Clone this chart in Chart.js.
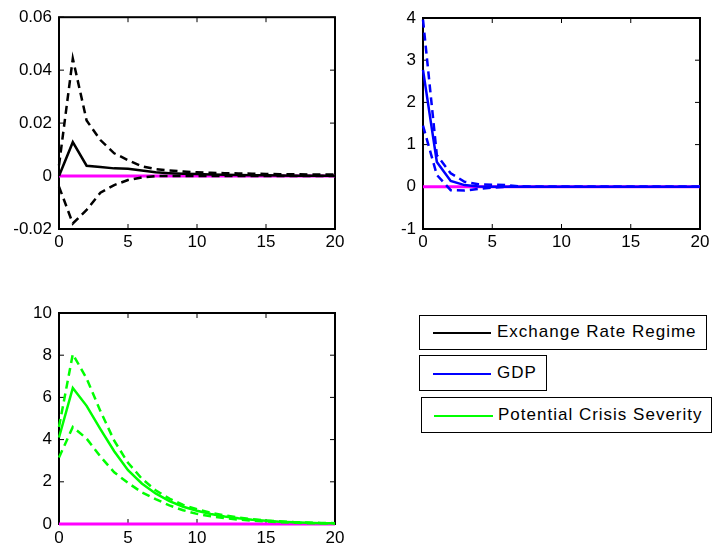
<!DOCTYPE html>
<html>
<head>
<meta charset="utf-8">
<script src="https://cdn.jsdelivr.net/npm/chart.js@4.4.1/dist/chart.umd.min.js"></script>
<style>
  body { margin: 0; background: #fff; width: 713px; height: 551px; position: relative; overflow: hidden; font-family: "Liberation Sans", Arial, sans-serif; }
  .plot { position: absolute; }
  .key { position: absolute; border: 1.5px solid #000; box-sizing: border-box; background: #fff; }
  .key span.line { position: absolute; height: 2px; }
  .key span.txt { position: absolute; font-size: 17px; letter-spacing: 1px; color: #000; white-space: nowrap; }
  #err { position: absolute; left: 380px; top: 460px; font-size: 10px; color: red; }
</style>
</head>
<body>
<div class="plot" style="left:0;top:0;width:360px;height:260px"><canvas id="rateChart"></canvas></div>
<div class="plot" style="left:360px;top:0;width:353px;height:260px"><canvas id="gdpChart"></canvas></div>
<div class="plot" style="left:0;top:280px;width:360px;height:271px"><canvas id="crisisChart"></canvas></div>

<div class="key" style="left:419px;top:315px;width:288px;height:35px">
  <span class="line" style="left:13px;top:16px;width:58px;background:#000"></span>
  <span class="txt" style="left:77px;top:6px">Exchange Rate Regime</span>
</div>
<div class="key" style="left:419px;top:355px;width:128px;height:36px">
  <span class="line" style="left:13px;top:17px;width:58px;background:#0000ff"></span>
  <span class="txt" style="left:77px;top:7px">GDP</span>
</div>
<div class="key" style="left:421px;top:397px;width:291px;height:36px">
  <span class="line" style="left:12px;top:17px;width:59px;background:#00ff00"></span>
  <span class="txt" style="left:76px;top:7px">Potential Crisis Severity</span>
</div>
<div id="err"></div>

<script>
// Horizon (periods after the shock)
const periods = [0, 1, 2, 3, 4, 5, 6, 7, 8, 9, 10, 11, 12, 13, 14, 15, 16, 17, 18, 19, 20];
const zeroLine = [0, 0, 0, 0, 0, 0, 0, 0, 0, 0, 0, 0, 0, 0, 0, 0, 0, 0, 0, 0, 0];

// Exchange Rate Regime response with bands
const rateMid   = [0, 0.0128, 0.0039, 0.0034, 0.0029, 0.0028, 0.0021, 0.0014, 0.0011, 0.0009, 0.0008, 0.0006, 0.0005, 0.0004, 0.0003, 0.0003, 0.0002, 0.0001, 0.0001, 0.0001, 0.0001];
const rateUpper = [0.004, 0.0444, 0.021, 0.0136, 0.0086, 0.006, 0.0037, 0.0026, 0.0021, 0.0017, 0.0014, 0.0012, 0.0011, 0.001, 0.0009, 0.0008, 0.0007, 0.0007, 0.0006, 0.0006, 0.0006];
const rateLower = [-0.004, -0.0179, -0.0128, -0.0063, -0.0034, -0.0015, -0.0005, 0, 0, 0, 0, 0, 0, 0, 0, 0, 0, 0, 0, 0, 0];

// GDP response with bands
const gdpMid   = [2.77, 0.59, 0.14, 0.04, 0.01, 0, 0, 0, 0, 0, 0, 0, 0, 0, 0, 0, 0, 0, 0, 0, 0];
const gdpUpper = [3.96, 0.75, 0.32, 0.12, 0.06, 0.05, 0.04, 0.01, 0, 0, 0, 0, 0, 0, 0, 0, 0, 0, 0, 0, 0];
const gdpLower = [1.45, 0.28, -0.08, -0.09, -0.05, -0.02, 0, 0, 0, 0, 0, 0, 0, 0, 0, 0, 0, 0, 0, 0, 0];

// Potential Crisis Severity response with bands
const crisisMid   = [4.1, 6.45, 5.6, 4.5, 3.45, 2.55, 1.92, 1.45, 1.08, 0.82, 0.63, 0.47, 0.36, 0.27, 0.2, 0.15, 0.11, 0.08, 0.06, 0.04, 0.03];
const crisisUpper = [4.6, 8.05, 6.9, 5.35, 3.95, 2.9, 2.15, 1.6, 1.2, 0.9, 0.7, 0.53, 0.41, 0.31, 0.23, 0.17, 0.13, 0.09, 0.07, 0.05, 0.04];
const crisisLower = [3.15, 4.6, 4.05, 3.2, 2.45, 1.95, 1.5, 1.18, 0.88, 0.65, 0.48, 0.37, 0.28, 0.21, 0.16, 0.12, 0.09, 0.06, 0.04, 0.03, 0.02];

// MATLAB-style box with inward tick marks
const boxFrame = {
    id: 'boxFrame',
    beforeDatasetsDraw(chart) {
        try {
            const ctx = chart.ctx;
            const a = chart.chartArea;
            const xs = chart.scales.x, ys = chart.scales.y;
            ctx.save();
            ctx.strokeStyle = '#000';
            ctx.lineWidth = 2;
            ctx.strokeRect(a.left, a.top, a.right - a.left, a.bottom - a.top);
            ctx.lineWidth = 1;
            ctx.beginPath();
            xs.ticks.forEach(t => {
                const px = xs.getPixelForValue(t.value);
                ctx.moveTo(px, a.bottom); ctx.lineTo(px, a.bottom - 5);
                ctx.moveTo(px, a.top); ctx.lineTo(px, a.top + 5);
            });
            ys.ticks.forEach(t => {
                const py = ys.getPixelForValue(t.value);
                ctx.moveTo(a.left, py); ctx.lineTo(a.left + 5, py);
                ctx.moveTo(a.right, py); ctx.lineTo(a.right - 5, py);
            });
            ctx.stroke();
            ctx.restore();
        } catch (e) {
            document.getElementById('err').textContent = e.message;
        }
    }
};
Chart.register(boxFrame);

const tickFont = { family: '"Liberation Sans", Arial, sans-serif', size: 17 };

function toPoints(values) {
    return values.map((v, i) => ({ x: periods[i], y: v }));
}

function makeChart(id, color, mid, upper, lower, yMin, yMax, yStep, yWidth, xHeight, xPad, pad) {
    const ctx = document.getElementById(id).getContext('2d');
    const dashed = { borderColor: color, borderWidth: 2.5, borderDash: [8, 5], pointRadius: 0, fill: false, clip: 4 };
    return new Chart(ctx, {
        type: 'line',
        data: {
            datasets: [
                Object.assign({ data: toPoints(upper) }, dashed),
                Object.assign({ data: toPoints(lower) }, dashed),
                { data: toPoints(mid), borderColor: color, borderWidth: 2.5, pointRadius: 0, fill: false, clip: 4 },
                { data: toPoints(zeroLine), borderColor: '#ff00ff', borderWidth: 3, pointRadius: 0, fill: false, clip: 4 }
            ]
        },
        options: {
            responsive: true,
            maintainAspectRatio: false,
            animation: false,
            layout: { padding: pad },
            plugins: { legend: { display: false }, tooltip: { enabled: false } },
            scales: {
                x: {
                    type: 'linear', min: 0, max: 20,
                    grid: { display: false, drawTicks: false },
                    border: { display: false },
                    ticks: { stepSize: 5, color: '#000', font: tickFont, padding: xPad, maxRotation: 0 },
                    afterFit: s => { s.height = xHeight; }
                },
                y: {
                    min: yMin, max: yMax,
                    grid: { display: false, drawTicks: false },
                    border: { display: false },
                    ticks: { stepSize: yStep, color: '#000', font: tickFont, padding: 7 },
                    afterFit: s => { s.width = yWidth; }
                }
            }
        }
    });
}

makeChart('rateChart', '#000000', rateMid, rateUpper, rateLower, -0.02, 0.06, 0.02, 59, 31, 3,
    { left: 0, right: 25, top: 17, bottom: 0 });
makeChart('gdpChart', '#0000ff', gdpMid, gdpUpper, gdpLower, -1, 4, 1, 63, 31, 3,
    { left: 0, right: 13, top: 18, bottom: 0 });
makeChart('crisisChart', '#00ff00', crisisMid, crisisUpper, crisisLower, 0, 10, 2, 59, 27, 4,
    { left: 0, right: 25, top: 33, bottom: 0 });
</script>
</body>
</html>
